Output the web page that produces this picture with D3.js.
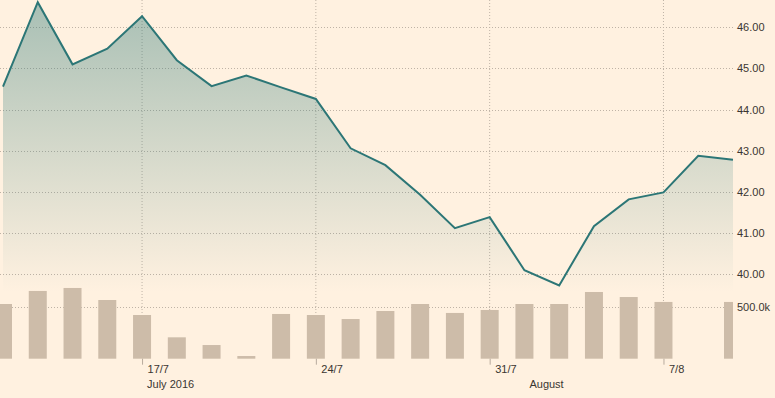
<!DOCTYPE html>
<html>
<head>
<meta charset="utf-8">
<script src="https://cdn.jsdelivr.net/npm/d3@7"></script>
<style>
  html, body { margin: 0; padding: 0; background: #fff1e0; }
  svg { display: block; }
  text { font-family: "Liberation Sans", Arial, sans-serif; font-size: 11px; fill: #3a3631; }
</style>
</head>
<body>
<svg id="chart" width="775" height="398"></svg>
<script>
const dates = ["2016-07-11","2016-07-12","2016-07-13","2016-07-14","2016-07-17","2016-07-18","2016-07-19","2016-07-20","2016-07-21",
  "2016-07-24","2016-07-25","2016-07-26","2016-07-27","2016-07-28","2016-07-31","2016-08-01","2016-08-02","2016-08-03","2016-08-04",
  "2016-08-07","2016-08-08","2016-08-09"];
const prices = [44.56, 46.61, 45.10, 45.48, 46.27, 45.20, 44.57, 44.83, 44.54,
  44.26, 43.06, 42.65, 41.93, 41.12, 41.39, 40.10, 39.73, 41.17, 41.82,
  41.99, 42.88, 42.78];
const volumes = [532000, 659000, 688000, 571000, 425000, 208000, 133000, 26000, 435000,
  425000, 386000, 464000, 532000, 445000, 474000, 532000, 532000, 649000, 600000,
  552000, null, 552000];
const priceTicks = [40, 41, 42, 43, 44, 45, 46];
const volumeTicks = [500000];
const dateTicks = ["2016-07-17","2016-07-24","2016-07-31","2016-08-07"];
const dateTickLabels = ["17/7","24/7","31/7","7/8"];
const monthLabelDates = ["2016-07-17","2016-08-01"];
const monthLabels = ["July 2016","August"];

const svg = d3.select("#chart");
const W = 775, H = 398;
const plotLeft = 3, plotRight = 733;

const x = d3.scalePoint().domain(dates).range([plotLeft, plotRight]);
const yP = d3.scaleLinear().domain([40, 46]).range([274.3, 27.3]);
const yV = d3.scaleLinear().domain([0, 500000]).range([358.7, 307.3]);

const defs = svg.append("defs");
const grad = defs.append("linearGradient").attr("id", "areaGrad")
  .attr("gradientUnits", "userSpaceOnUse").attr("x1", 0).attr("x2", 0).attr("y1", 0).attr("y2", 292);
grad.append("stop").attr("offset", 0).attr("stop-color", "#2f7a78").attr("stop-opacity", 0.42);
grad.append("stop").attr("offset", 1).attr("stop-color", "#2f7a78").attr("stop-opacity", 0);
defs.append("clipPath").attr("id", "clipPlot").append("rect")
  .attr("x", -20).attr("y", 0).attr("width", plotRight + 20).attr("height", H);

const gridColor = "#bfb3a6";

// vertical grid lines at date ticks
svg.append("g").selectAll("line").data(dateTicks).join("line")
  .attr("x1", d => x(d)).attr("x2", d => x(d))
  .attr("y1", 0).attr("y2", yV(0))
  .attr("stroke", gridColor).attr("stroke-width", 1).attr("stroke-dasharray", "1,2");

// horizontal price grid
const gridG = svg.append("g");
gridG.selectAll("line.p").data(priceTicks).join("line").attr("class", "p")
  .attr("x1", 0).attr("x2", plotRight)
  .attr("y1", d => Math.round(yP(d)) + 0.5).attr("y2", d => Math.round(yP(d)) + 0.5)
  .attr("stroke", gridColor).attr("stroke-dasharray", "1,2");
gridG.selectAll("line.v").data(volumeTicks).join("line").attr("class", "v")
  .attr("x1", 0).attr("x2", plotRight)
  .attr("y1", d => Math.round(yV(d)) + 0.5).attr("y2", d => Math.round(yV(d)) + 0.5)
  .attr("stroke", gridColor).attr("stroke-dasharray", "1,2");

// area
const area = d3.area().x((d, i) => x(dates[i])).y0(292).y1(d => yP(d));
svg.append("path").datum(prices).attr("d", area).attr("fill", "url(#areaGrad)");

// volume bars
const barW = 18;
svg.append("g").attr("clip-path", "url(#clipPlot)").selectAll("rect")
  .data(volumes.map((v, i) => ({ d: dates[i], v })).filter(o => o.v != null))
  .join("rect")
  .attr("x", o => x(o.d) - barW / 2).attr("width", barW)
  .attr("y", o => yV(o.v)).attr("height", o => yV(0) - yV(o.v))
  .attr("fill", "#cdbca9");

// line
const line = d3.line().x((d, i) => x(dates[i])).y(d => yP(d));
svg.append("path").datum(prices).attr("d", line)
  .attr("fill", "none").attr("stroke", "#2c7676").attr("stroke-width", 2).attr("stroke-linejoin", "miter");

// right axis labels
const axP = svg.append("g").attr("transform", `translate(${plotRight + 4},0)`)
  .call(d3.axisRight(yP).tickValues(priceTicks).tickFormat(d3.format(".2f")).tickSize(0).tickPadding(0));
axP.select(".domain").remove();
axP.selectAll("text").attr("fill", "#3a3631").style("font-size", "11px").attr("font-family", "Liberation Sans, Arial, sans-serif");
const axV = svg.append("g").attr("transform", `translate(${plotRight + 4},0)`)
  .call(d3.axisRight(yV).tickValues(volumeTicks).tickFormat(d => (d / 1000).toFixed(1) + "k").tickSize(0).tickPadding(0));
axV.select(".domain").remove();
axV.selectAll("text").attr("fill", "#3a3631").style("font-size", "11px").attr("font-family", "Liberation Sans, Arial, sans-serif");

// bottom axis
const axB = svg.append("g").attr("transform", `translate(0,${yV(0)})`)
  .call(d3.axisBottom(x).tickValues(dateTicks).tickFormat((d, i) => dateTickLabels[i]).tickSize(6).tickPadding(2));
axB.select(".domain").remove();
axB.selectAll("line").attr("stroke", "#b8ab9d");
axB.selectAll("text").attr("text-anchor", "start").attr("dx", 5).attr("dy", "0.6em")
  .attr("fill", "#3a3631").style("font-size", "11px").attr("font-family", "Liberation Sans, Arial, sans-serif");

svg.append("g").selectAll("text").data(monthLabelDates).join("text")
  .attr("x", d => x(d) + 5).attr("y", 388)
  .text((d, i) => monthLabels[i]);
</script>
</body>
</html>
